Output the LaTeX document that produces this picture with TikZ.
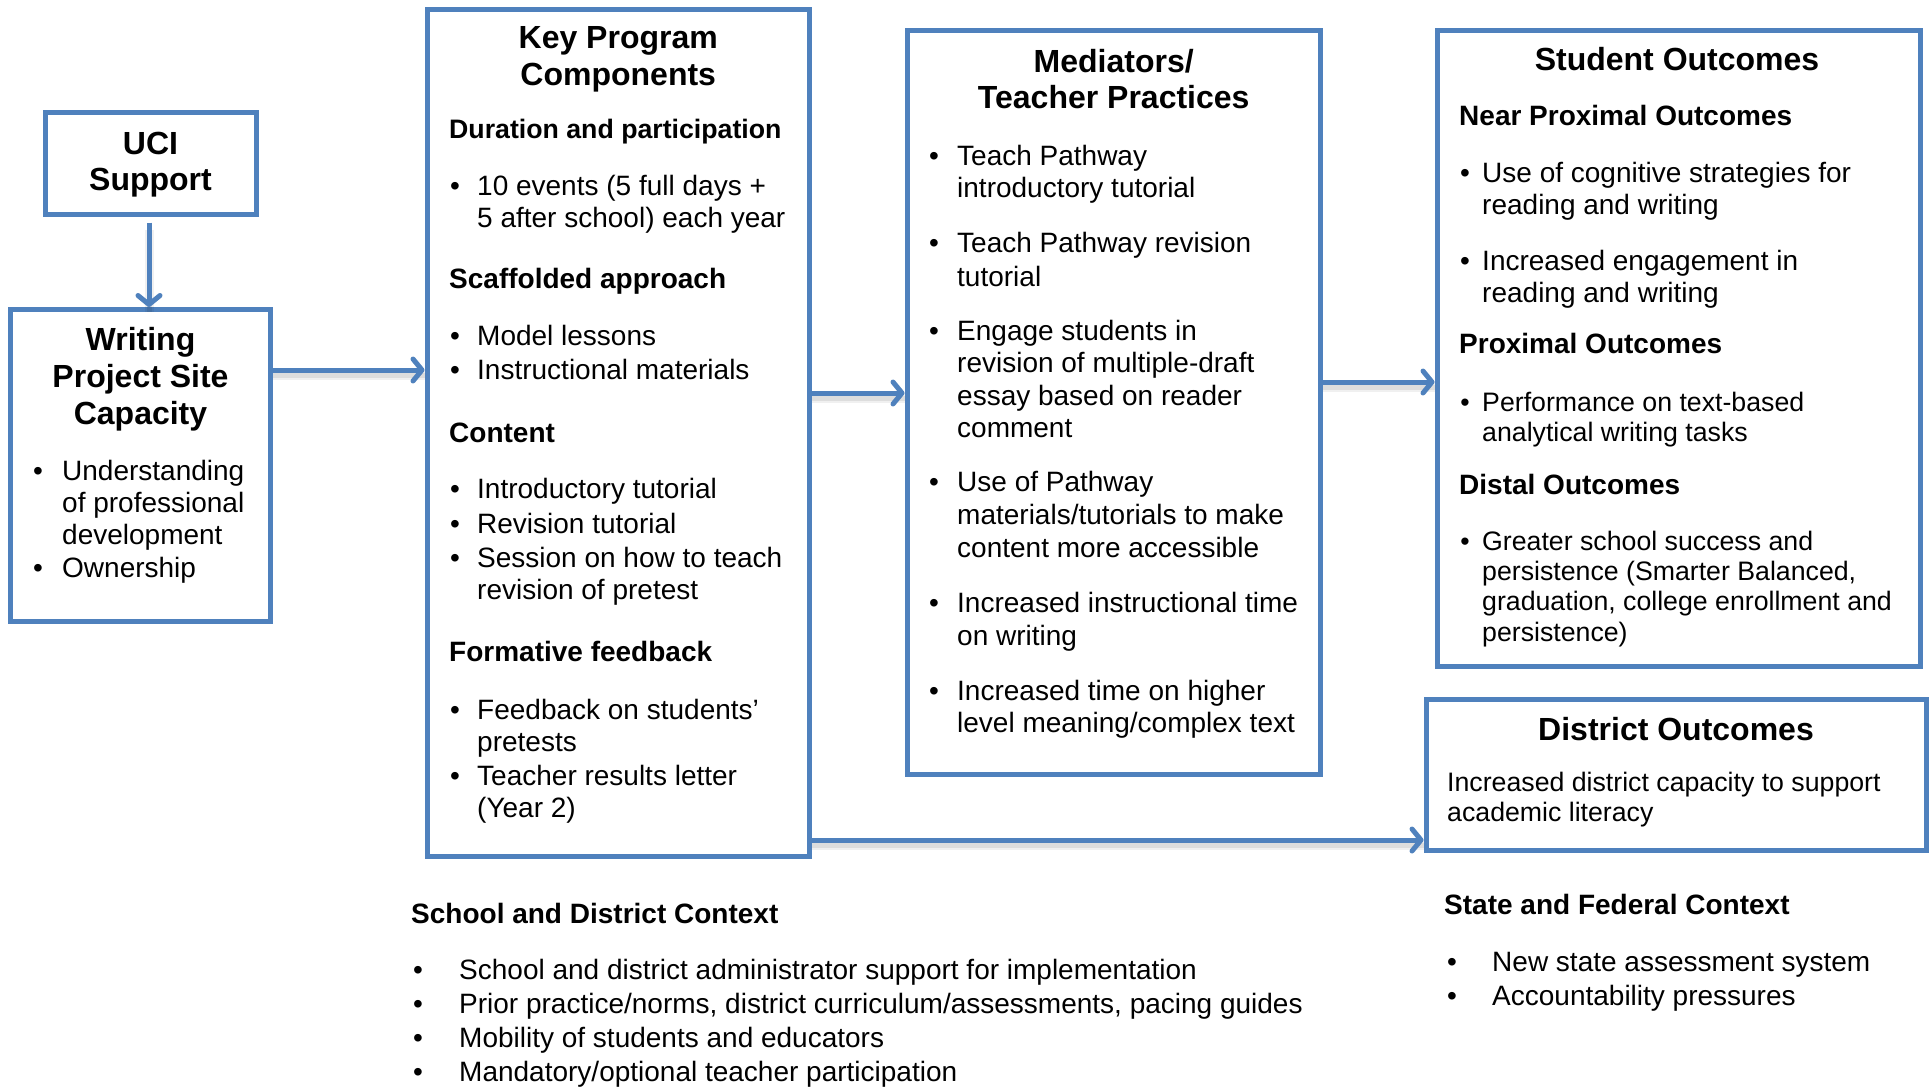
\documentclass[tikz,border=0pt]{standalone}
\usepackage{fontspec}
\setmainfont{Liberation Sans}
\usetikzlibrary{arrows.meta}
\definecolor{frameblue}{HTML}{4F81BD}
\begin{document}
\begin{tikzpicture}[x=1pt,y=-1pt,
  box/.style={draw=frameblue, line width=5pt, rectangle, inner sep=0pt, fill=white},
  ttl/.style={anchor=base, inner sep=0pt, font=\fontsize{32}{37}\selectfont\bfseries},
  hd/.style={anchor=base west, inner sep=0pt, font=\fontsize{28}{32}\selectfont\bfseries},
  txt/.style={anchor=base west, inner sep=0pt, font=\fontsize{28}{32}\selectfont},
  small/.style={font=\fontsize{26.7}{30}\selectfont},
  dot/.style={anchor=base, inner sep=0pt, font=\fontsize{28}{32}\selectfont},
  link/.style={draw=frameblue, line width=5pt, -{Straight Barb[length=9pt,width=22pt,round]}},
  soft/.style={draw=black, line width=9pt, opacity=0.06},
  softer/.style={draw=black, line width=5pt, opacity=0.08},
  ]
\path[use as bounding box, fill=white] (0,0) rectangle (1929,1088);

% frames
\node[box, minimum width=211pt, minimum height=102pt] (uci) at (150.5,163) {};
\node[box, minimum width=260pt, minimum height=312pt] (wpsc) at (140.5,465.5) {};
\node[box, minimum width=382.5pt, minimum height=846.5pt] (kpc) at (618.25,432.75) {};
\node[box, minimum width=413.5pt, minimum height=744pt] (med) at (1113.75,402.5) {};
\node[box, minimum width=483pt, minimum height=635.5pt] (so) at (1678.5,348.25) {};
\node[box, minimum width=500pt, minimum height=151pt] (do) at (1676,774.5) {};

% soft shadows under the connectors
\begin{scope}[transform canvas={yshift=-5pt}]
  \foreach \s in {soft,softer}{
    \draw[\s] (149,0 |- uci.south) ++(0,8) -- (149,0 |- wpsc.north);
    \draw[\s] (wpsc.east |- 0,370) -- (kpc.west |- 0,370);
    \draw[\s] (kpc.east |- 0,393) -- (med.west |- 0,393);
    \draw[\s] (med.east |- 0,382) -- (so.west |- 0,382);
    \draw[\s] (kpc.east |- 0,840) -- (do.west |- 0,840);
  }
\end{scope}

% connectors
\draw[link, shorten <=6pt] (149,0 |- uci.south) -- (149,0 |- wpsc.north);
\draw[link] (wpsc.east |- 0,370) -- (kpc.west |- 0,370);
\draw[link] (kpc.east |- 0,393) -- (med.west |- 0,393);
\draw[link] (med.east |- 0,382) -- (so.west |- 0,382);
\draw[link] (kpc.east |- 0,840) -- (do.west |- 0,840);

% UCI Support
\node[ttl] (uciA) at (150.5,154) {UCI};
\node[ttl] (uciB) at (150.5,190) {Support};

% Writing Project Site Capacity
\node[ttl] (wA) at (140.5,350) {Writing};
\node[ttl] (wB) at (140.5,387) {Project Site};
\node[ttl] (wC) at (140.5,424) {Capacity};
\node[dot] (wd1) at (38,480) {•};
\node[txt] (w1) at (62,480) {Understanding};
\node[txt] (w2) at (62,512) {of professional};
\node[txt] (w3) at (62,544) {development};
\node[dot] (wd2) at (38,577) {•};
\node[txt] (w4) at (62,577) {Ownership};

% Key Program Components
\node[ttl] (kA) at (618.25,48) {Key Program};
\node[ttl] (kB) at (618.25,85) {Components};
\node[hd, font=\fontsize{26.7}{32}\selectfont\bfseries] (kh1) at (449,138) {Duration and participation};
\node[dot] (kd1) at (455,195) {•};
\node[txt] (k1) at (477,195) {10 events (5 full days +};
\node[txt] (k2) at (477,227) {5 after school) each year};
\node[hd] (kh2) at (449,288) {Scaffolded approach};
\node[dot] (kd2) at (455,345) {•};
\node[txt] (k3) at (477,345) {Model lessons};
\node[dot] (kd3) at (455,379) {•};
\node[txt] (k4) at (477,379) {Instructional materials};
\node[hd] (kh3) at (449,442) {Content};
\node[dot] (kd4) at (455,498) {•};
\node[txt] (k5) at (477,498) {Introductory tutorial};
\node[dot] (kd5) at (455,533) {•};
\node[txt] (k6) at (477,533) {Revision tutorial};
\node[dot] (kd6) at (455,567) {•};
\node[txt] (k7) at (477,567) {Session on how to teach};
\node[txt] (k8) at (477,599) {revision of pretest};
\node[hd] (kh4) at (449,661) {Formative feedback};
\node[dot] (kd7) at (455,719) {•};
\node[txt] (k9) at (477,719) {Feedback on students’};
\node[txt] (k10) at (477,751) {pretests};
\node[dot] (kd8) at (455,785) {•};
\node[txt] (k11) at (477,785) {Teacher results letter};
\node[txt] (k12) at (477,817) {(Year 2)};

% Mediators / Teacher Practices
\node[ttl] (mA) at (1113.75,72) {Mediators/};
\node[ttl] (mB) at (1113.75,108) {Teacher Practices};
\node[dot] (md1) at (934,165) {•};
\node[txt] (m1) at (957,165) {Teach Pathway};
\node[txt] (m2) at (957,197) {introductory tutorial};
\node[dot] (md2) at (934,252) {•};
\node[txt] (m3) at (957,252) {Teach Pathway revision};
\node[txt] (m4) at (957,286) {tutorial};
\node[dot] (md3) at (934,340) {•};
\node[txt] (m5) at (957,340) {Engage students in};
\node[txt] (m6) at (957,372) {revision of multiple-draft};
\node[txt] (m7) at (957,405) {essay based on reader};
\node[txt] (m8) at (957,437) {comment};
\node[dot] (md4) at (934,491) {•};
\node[txt] (m9) at (957,491) {Use of Pathway};
\node[txt] (m10) at (957,524) {materials/tutorials to make};
\node[txt] (m11) at (957,557) {content more accessible};
\node[dot] (md5) at (934,612) {•};
\node[txt] (m12) at (957,612) {Increased instructional time};
\node[txt] (m13) at (957,645) {on writing};
\node[dot] (md6) at (934,700) {•};
\node[txt] (m14) at (957,700) {Increased time on higher};
\node[txt] (m15) at (957,732) {level meaning/complex text};

% Student Outcomes
\node[ttl] (sA) at (1677,70) {Student Outcomes};
\node[hd] (sh1) at (1459,125) {Near Proximal Outcomes};
\node[dot] (sd1) at (1465,182) {•};
\node[txt] (s1) at (1482,182) {Use of cognitive strategies for};
\node[txt] (s2) at (1482,214) {reading and writing};
\node[dot] (sd2) at (1465,270) {•};
\node[txt] (s3) at (1482,270) {Increased engagement in};
\node[txt] (s4) at (1482,302) {reading and writing};
\node[hd] (sh2) at (1459,353) {Proximal Outcomes};
\node[dot, small] (sd3) at (1465,411) {•};
\node[txt, small] (s5) at (1482,411) {Performance on text-based};
\node[txt, small] (s6) at (1482,441) {analytical writing tasks};
\node[hd] (sh3) at (1459,494) {Distal Outcomes};
\node[dot, small] (sd4) at (1465,550) {•};
\node[txt, small] (s7) at (1482,550) {Greater school success and};
\node[txt, small] (s8) at (1482,580) {persistence (Smarter Balanced,};
\node[txt, small] (s9) at (1482,610) {graduation, college enrollment and};
\node[txt, small] (s10) at (1482,641) {persistence)};

% District Outcomes
\node[ttl] (dA) at (1676,740) {District Outcomes};
\node[txt, small] (d1) at (1447,791) {Increased district capacity to support};
\node[txt, small] (d2) at (1447,821) {academic literacy};

% School and District Context
\node[hd] (ch1) at (411,923) {School and District Context};
\node[dot] (cd1) at (418,979) {•};
\node[txt] (c1) at (459,979) {School and district administrator support for implementation};
\node[dot] (cd2) at (418,1013) {•};
\node[txt] (c2) at (459,1013) {Prior practice/norms, district curriculum/assessments, pacing guides};
\node[dot] (cd3) at (418,1047) {•};
\node[txt] (c3) at (459,1047) {Mobility of students and educators};
\node[dot] (cd4) at (418,1081) {•};
\node[txt] (c4) at (459,1081) {Mandatory/optional teacher participation};

% State and Federal Context
\node[hd] (fh1) at (1444,914) {State and Federal Context};
\node[dot] (fd1) at (1452,971) {•};
\node[txt] (f1) at (1492,971) {New state assessment system};
\node[dot] (fd2) at (1452,1005) {•};
\node[txt] (f2) at (1492,1005) {Accountability pressures};
\end{tikzpicture}
\end{document}
